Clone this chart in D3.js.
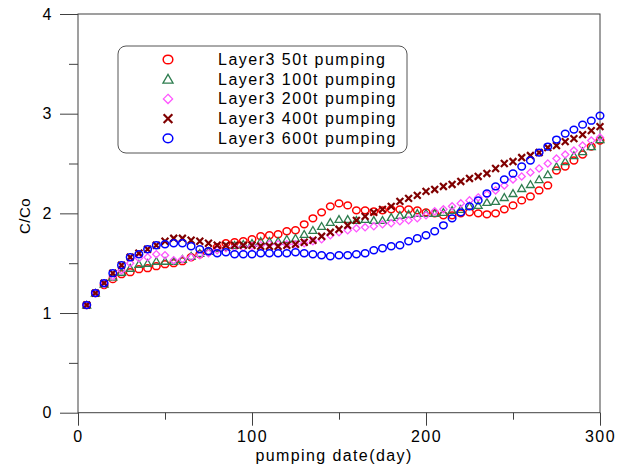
<!DOCTYPE html>
<html>
<head>
<meta charset="utf-8">
<script src="https://cdn.jsdelivr.net/npm/d3@7"></script>
<style>
  body { margin: 0; background: #fff; }
  svg text { font-family: Arial, "Liberation Sans", sans-serif; fill: #000; }
</style>
</head>
<body>
<div id="chart"></div>
<script>
// pumping days (x)
const days = [5, 10, 15, 20, 25, 30, 35, 40, 45, 50, 55, 60, 65, 70, 75, 80, 85, 90, 95, 100,
  105, 110, 115, 120, 125, 130, 135, 140, 145, 150, 155, 160, 165, 170, 175, 180, 185, 190, 195, 200,
  205, 210, 215, 220, 225, 230, 235, 240, 245, 250, 255, 260, 265, 270, 275, 280, 285, 290, 295, 300];

// C/Co, one array per pumping case
const pump50 = [1.08, 1.20, 1.28, 1.34, 1.39, 1.41, 1.44, 1.45, 1.47, 1.49, 1.50, 1.52, 1.56, 1.59, 1.62, 1.66, 1.70, 1.71, 1.72, 1.74,
  1.77, 1.78, 1.79, 1.82, 1.83, 1.89, 1.95, 2.01, 2.07, 2.10, 2.08, 2.03, 2.03, 2.02, 2.03, 2.04, 2.04, 2.04, 2.03, 2.01,
  2.00, 1.98, 1.98, 2.00, 2.01, 2.00, 1.99, 2.00, 2.04, 2.08, 2.13, 2.17, 2.23, 2.28, 2.43, 2.47, 2.53, 2.59, 2.67, 2.73];
const pump100 = [1.08, 1.20, 1.29, 1.36, 1.41, 1.45, 1.49, 1.50, 1.52, 1.52, 1.52, 1.54, 1.57, 1.60, 1.62, 1.65, 1.66, 1.68, 1.69, 1.70,
  1.72, 1.72, 1.72, 1.74, 1.75, 1.79, 1.83, 1.87, 1.91, 1.94, 1.94, 1.93, 1.94, 1.93, 1.93, 1.96, 1.98, 1.99, 2.00, 2.00,
  2.00, 2.01, 2.03, 2.04, 2.07, 2.08, 2.11, 2.12, 2.16, 2.20, 2.25, 2.29, 2.34, 2.39, 2.47, 2.52, 2.58, 2.62, 2.67, 2.74];
const pump200 = [1.08, 1.20, 1.29, 1.37, 1.43, 1.50, 1.55, 1.56, 1.59, 1.58, 1.53, 1.54, 1.56, 1.58, 1.60, 1.63, 1.65, 1.66, 1.66, 1.67,
  1.68, 1.69, 1.69, 1.69, 1.69, 1.70, 1.72, 1.74, 1.78, 1.81, 1.83, 1.85, 1.86, 1.87, 1.89, 1.90, 1.92, 1.93, 1.95, 1.98,
  2.02, 2.04, 2.07, 2.10, 2.13, 2.16, 2.19, 2.23, 2.28, 2.34, 2.37, 2.41, 2.45, 2.50, 2.55, 2.59, 2.63, 2.68, 2.73, 2.76];
const pump400 = [1.08, 1.20, 1.30, 1.40, 1.48, 1.56, 1.60, 1.64, 1.68, 1.72, 1.75, 1.75, 1.73, 1.72, 1.70, 1.68, 1.68, 1.68, 1.68, 1.68,
  1.67, 1.67, 1.67, 1.68, 1.69, 1.71, 1.73, 1.77, 1.81, 1.84, 1.88, 1.93, 1.97, 2.01, 2.04, 2.07, 2.12, 2.15, 2.18, 2.22,
  2.24, 2.27, 2.29, 2.32, 2.35, 2.37, 2.40, 2.45, 2.50, 2.52, 2.56, 2.58, 2.61, 2.66, 2.68, 2.72, 2.75, 2.79, 2.83, 2.87];
const pump600 = [1.08, 1.20, 1.30, 1.40, 1.48, 1.56, 1.59, 1.64, 1.68, 1.69, 1.70, 1.70, 1.67, 1.64, 1.62, 1.60, 1.61, 1.59, 1.59, 1.59,
  1.60, 1.60, 1.60, 1.60, 1.61, 1.60, 1.59, 1.58, 1.57, 1.58, 1.58, 1.59, 1.60, 1.63, 1.65, 1.67, 1.68, 1.72, 1.75, 1.78,
  1.82, 1.88, 1.95, 2.01, 2.07, 2.13, 2.20, 2.27, 2.34, 2.40, 2.47, 2.53, 2.61, 2.67, 2.74, 2.80, 2.84, 2.89, 2.93, 2.98];

const seriesNames = ['Layer3 50t pumping', 'Layer3 100t pumping', 'Layer3 200t pumping',
  'Layer3 400t pumping', 'Layer3 600t pumping'];
const seriesValues = [pump50, pump100, pump200, pump400, pump600];
const seriesColors = ['#ff0000', '#2e7d4f', '#ff55ff', '#800000', '#0000ff'];
const seriesShapes = ['circle', 'triangle', 'diamond', 'cross', 'circle'];

const xMajor = [0, 100, 200, 300];
const xMinor = [50, 150, 250];
const yMajor = [0, 1, 2, 3, 4];
const yMinor = [0.5, 1.5, 2.5, 3.5];

const W = 623, H = 468;
const plotLeft = 78, plotRight = 600, plotTop = 14, plotBottom = 412.7;
const axisColor = '#404040';

const svg = d3.select('#chart').append('svg')
  .attr('width', W)
  .attr('height', H);

const x = d3.scaleLinear().domain([0, 300]).range([plotLeft, plotRight]);
const y = d3.scaleLinear().domain([0, 4]).range([plotBottom, plotTop]);

// frame
svg.append('rect')
  .attr('x', plotLeft).attr('y', plotTop)
  .attr('width', plotRight - plotLeft).attr('height', plotBottom - plotTop)
  .attr('fill', 'none').attr('stroke', axisColor).attr('stroke-width', 1);

function styleAxis(g) {
  g.select('.domain').remove();
  g.selectAll('.tick line').attr('stroke', axisColor).attr('stroke-width', 1);
  g.selectAll('.tick text')
    .attr('font-size', 16)
    .attr('letter-spacing', 1.5)
    .attr('fill', '#000');
}

svg.append('g')
  .attr('transform', `translate(${plotLeft},0)`)
  .call(d3.axisLeft(y).tickValues(yMajor).tickSize(18).tickPadding(7).tickFormat(d3.format('d')))
  .call(styleAxis);
svg.append('g')
  .attr('transform', `translate(${plotLeft},0)`)
  .call(d3.axisLeft(y).tickValues(yMinor).tickSize(9).tickFormat(''))
  .call(styleAxis);

svg.append('g')
  .attr('transform', `translate(0,${plotBottom})`)
  .call(d3.axisBottom(x).tickValues(xMajor).tickSize(13).tickPadding(5).tickFormat(d3.format('d')))
  .call(styleAxis);
svg.append('g')
  .attr('transform', `translate(0,${plotBottom})`)
  .call(d3.axisBottom(x).tickValues(xMinor).tickSize(7).tickFormat(''))
  .call(styleAxis);

// axis titles
svg.append('text')
  .attr('x', 334).attr('y', 461)
  .attr('text-anchor', 'middle')
  .attr('font-size', 16)
  .attr('letter-spacing', 1.4)
  .text('pumping date(day)');

svg.append('text')
  .attr('transform', 'translate(30,216) rotate(-90)')
  .attr('text-anchor', 'middle')
  .attr('font-size', 15)
  .attr('letter-spacing', 0.5)
  .text('C/Co');

// marker drawing
function drawMarker(g, shape, color, s) {
  if (shape === 'circle') {
    g.append('ellipse').attr('rx', s * 1.05).attr('ry', s * 0.95)
      .attr('fill', 'none').attr('stroke', color).attr('stroke-width', 1.5);
  } else if (shape === 'triangle') {
    const h = s * 1.9;
    g.append('path')
      .attr('d', `M0,${-h * 0.55}L${s * 1.1},${h * 0.45}L${-s * 1.1},${h * 0.45}Z`)
      .attr('fill', 'none').attr('stroke', color).attr('stroke-width', 1.3);
  } else if (shape === 'diamond') {
    g.append('path')
      .attr('d', `M0,${-s}L${s},0L0,${s}L${-s},0Z`)
      .attr('fill', 'none').attr('stroke', color).attr('stroke-width', 1.3);
  } else if (shape === 'cross') {
    const c = s * 0.95;
    g.append('path')
      .attr('d', `M${-c},${-c}L${c},${c}M${-c},${c}L${c},${-c}`)
      .attr('fill', 'none').attr('stroke', color).attr('stroke-width', 2.2);
  }
}

// data points
seriesValues.forEach((vals, i) => {
  const layer = svg.append('g');
  vals.forEach((v, j) => {
    const g = layer.append('g').attr('transform', `translate(${x(days[j])},${y(v)})`);
    drawMarker(g, seriesShapes[i], seriesColors[i], 3.6);
  });
});

// legend
const legend = svg.append('g');
legend.append('rect')
  .attr('x', 118).attr('y', 46)
  .attr('width', 289).attr('height', 107)
  .attr('rx', 8).attr('ry', 8)
  .attr('fill', '#fff')
  .attr('stroke', '#555').attr('stroke-width', 1);

seriesNames.forEach((name, i) => {
  const cy = 59.5 + i * 19.7;
  const g = legend.append('g').attr('transform', `translate(168,${cy})`);
  drawMarker(g, seriesShapes[i], seriesColors[i], 4.6);
  legend.append('text')
    .attr('x', 218).attr('y', cy + 5.5)
    .attr('font-size', 16)
    .attr('letter-spacing', 1.5)
    .text(name);
});
</script>
</body>
</html>
